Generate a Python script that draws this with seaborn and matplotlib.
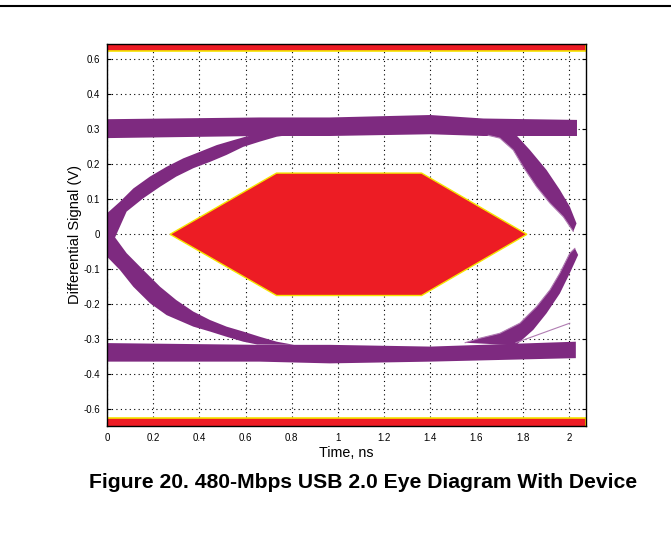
import matplotlib
matplotlib.use("Agg")
import matplotlib.pyplot as plt
from matplotlib.lines import Line2D
import seaborn as sns
import numpy as np
import pandas as pd

# --- data (time in ns, signal in V) ---
x_ticks = [0, 0.2, 0.4, 0.6, 0.8, 1, 1.2, 1.4, 1.6, 1.8, 2]
x_tick_labels = ["0", "0.2", "0.4", "0.6", "0.8", "1", "1.2", "1.4", "1.6", "1.8", "2"]
y_ticks = [0.5, 0.4, 0.3, 0.2, 0.1, 0, -0.1, -0.2, -0.3, -0.4, -0.5]
y_tick_labels = ["0.6", "0.4", "0.3", "0.2", "0.1", "0", "-0.1", "-0.2", "-0.3", "-0.4", "-0.6"]

# high / low levels (top and bottom edges of the trace bundles)
high_x = [0, 0.66, 0.965, 1.4, 1.63, 2.035]
high_top = [0.329, 0.334, 0.334, 0.341, 0.331, 0.327]
high_bot = [0.275, 0.281, 0.281, 0.286, 0.281, 0.281]

low_x = [0, 0.66, 0.965, 1.4, 2.03]
low_top = [-0.311, -0.316, -0.316, -0.321, -0.307]
low_bot = [-0.364, -0.364, -0.369, -0.364, -0.354]

# left rising edge
rise_l_outer_x = [0, 0.056, 0.114, 0.186, 0.258, 0.33, 0.403, 0.475, 0.547, 0.605, 0.7]
rise_l_outer_y = [0.06, 0.093, 0.131, 0.165, 0.193, 0.217, 0.236, 0.255, 0.269, 0.28, 0.29]
rise_l_inner_x = [0, 0.035, 0.085, 0.157, 0.23, 0.30, 0.374, 0.446, 0.518, 0.59, 0.662, 0.735, 0.8]
rise_l_inner_y = [-0.03, -0.009, 0.065, 0.103, 0.136, 0.165, 0.189, 0.207, 0.227, 0.25, 0.265, 0.279, 0.285]

# left falling edge
fall_l_outer_x = [0, 0.056, 0.114, 0.186, 0.258, 0.374, 0.446, 0.518, 0.59, 0.65]
fall_l_outer_y = [-0.064, -0.102, -0.15, -0.197, -0.231, -0.264, -0.278, -0.293, -0.307, -0.315]
fall_l_inner_x = [0, 0.035, 0.085, 0.157, 0.23, 0.30, 0.374, 0.446, 0.518, 0.59, 0.662, 0.735, 0.81]
fall_l_inner_y = [0.03, -0.009, -0.054, -0.102, -0.15, -0.188, -0.221, -0.245, -0.264, -0.278, -0.293, -0.307, -0.316]

# right falling edge
fall_r_outer_x = [1.70, 1.759, 1.831, 1.903, 1.961, 2.004, 2.033]
fall_r_outer_y = [0.30, 0.293, 0.241, 0.184, 0.127, 0.079, 0.031]
fall_r_inner_x = [1.65, 1.701, 1.759, 1.802, 1.86, 1.918, 1.976, 2.019]
fall_r_inner_y = [0.283, 0.275, 0.241, 0.193, 0.136, 0.089, 0.05, 0.008]

# right rising edge
rise_r_outer_x = [1.55, 1.615, 1.701, 1.788, 1.86, 1.918, 1.961, 2.004, 2.026]
rise_r_outer_y = [-0.31, -0.297, -0.283, -0.254, -0.207, -0.159, -0.111, -0.054, -0.04]
rise_r_inner_x = [1.70, 1.773, 1.846, 1.903, 1.961, 2.004, 2.04]
rise_r_inner_y = [-0.315, -0.316, -0.273, -0.226, -0.169, -0.111, -0.059]

# stray single traces
stray_x = [1.77, 2.004]
stray_y = [-0.31, -0.254]

# eye mask (hexagon) and limit bands
mask_x = [0.273, 0.734, 1.362, 1.818, 1.362, 0.734]
mask_y = [0, 0.175, 0.175, 0, -0.175, -0.175]
limit_level = 0.525

PURPLE = "#7e2a80"
LIGHT_PURPLE = "#b07cb2"
RED = "#ed1c24"
YELLOW = "#f5e400"

sns.set_style("white")
plt.rcParams["font.family"] = ["Liberation Sans", "DejaVu Sans"]
plt.rcParams["text.color"] = "black"
plt.rcParams["axes.labelcolor"] = "black"

fig = plt.figure(figsize=(6.71, 5.42), dpi=100)
ax = fig.add_axes([107 / 671, 1 - 426 / 542, 479 / 671, 382 / 542])


def band(ax, x_a, y_a, x_b, y_b, color):
    px = np.concatenate([x_a, x_b[::-1]])
    py = np.concatenate([y_a, y_b[::-1]])
    ax.fill(px, py, color=color, lw=0, zorder=3)


# mask limits
ax.axhspan(limit_level, 1.0, facecolor=RED, edgecolor=YELLOW, lw=1.2, zorder=2)
ax.axhspan(-1.0, -limit_level, facecolor=RED, edgecolor=YELLOW, lw=1.2, zorder=2)
ax.fill(mask_x, mask_y, facecolor=RED, edgecolor=YELLOW, lw=1.0, zorder=2)

# eye traces
band(ax, np.array(high_x), np.array(high_top), np.array(high_x), np.array(high_bot), PURPLE)
band(ax, np.array(low_x), np.array(low_top), np.array(low_x), np.array(low_bot), PURPLE)
band(ax, np.array(rise_l_outer_x), np.array(rise_l_outer_y),
     np.array(rise_l_inner_x), np.array(rise_l_inner_y), PURPLE)
band(ax, np.array(fall_l_outer_x), np.array(fall_l_outer_y),
     np.array(fall_l_inner_x), np.array(fall_l_inner_y), PURPLE)
band(ax, np.array(fall_r_outer_x), np.array(fall_r_outer_y),
     np.array(fall_r_inner_x), np.array(fall_r_inner_y), PURPLE)
band(ax, np.array(rise_r_outer_x), np.array(rise_r_outer_y),
     np.array(rise_r_inner_x), np.array(rise_r_inner_y), PURPLE)

# thin outlying traces along the edges
edges = pd.DataFrame({
    "t": rise_r_outer_x + fall_r_inner_x + stray_x,
    "v": rise_r_outer_y + fall_r_inner_y + stray_y,
    "trace": ["a"] * len(rise_r_outer_x) + ["b"] * len(fall_r_inner_x) + ["c"] * len(stray_x),
})
sns.lineplot(data=edges, x="t", y="v", units="trace", estimator=None,
             color=LIGHT_PURPLE, lw=0.8, sort=False, ax=ax, zorder=4)

ax.set_xlim(0, 2.074)
ax.set_ylim(-0.548, 0.544)
ax.set_xticks(x_ticks)
ax.set_xticklabels(x_tick_labels)
ax.set_yticks(y_ticks)
ax.set_yticklabels(y_tick_labels)
ax.grid(True, color="black", linestyle=(0, (1, 3)), lw=0.8)
ax.set_axisbelow(True)
ax.tick_params(direction="in", length=3, width=0.8, labelsize=7, pad=5,
               right=True, left=True, bottom=True, top=False,
               colors="black", labelcolor="black")
for s in ax.spines.values():
    s.set_color("black")
    s.set_linewidth(1.0)
    s.set_zorder(5)

ax.set_xlabel("Time, ns", fontsize=10.3, labelpad=2, color="black")
ax.set_ylabel("Differential Signal (V)", fontsize=10.5, labelpad=1, color="black")

fig.add_artist(Line2D([0, 1], [1 - 6 / 542, 1 - 6 / 542], color="black", lw=1.5,
                      transform=fig.transFigure))
fig.text(363 / 671, 1 - 483 / 542, "Figure 20. 480-Mbps USB 2.0 Eye Diagram With Device",
         ha="center", va="center", fontsize=15.2, fontweight="bold", color="black")

fig.savefig("out.png", dpi=100)
